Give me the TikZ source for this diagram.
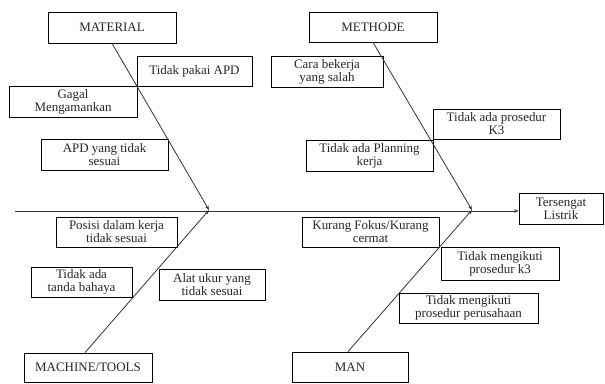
\documentclass[tikz,border=0pt]{standalone}
\usepackage{fontspec}
\setmainfont{Liberation Serif}
\usetikzlibrary{arrows.meta}
\begin{document}
\begin{tikzpicture}[x=1bp,y=-1bp,
  cbox/.style={draw, line width=0.8bp, inner sep=0pt, align=center,
    font=\fontsize{13}{13}\selectfont, text=black!85},
  bone/.style={line width=0.8bp, draw=black!80},
  tip/.style={-{Stealth[length=4.5bp,width=3.5bp]}}]
\useasboundingbox (0,0) rectangle (605,383);
% category boxes
\node[cbox, minimum width=128bp, minimum height=31bp] (material) at (112,27.5) {MATERIAL};
\node[cbox, minimum width=128bp, minimum height=30bp] (methode) at (373,27) {METHODE};
\node[cbox, minimum width=128bp, minimum height=29bp] (machine) at (88,367.5) {MACHINE/TOOLS};
\node[cbox, minimum width=116bp, minimum height=30bp] (man) at (350,367) {MAN};
\node[cbox, minimum width=84bp, minimum height=31bp] (effect) at (561,208.5) {Tersengat\\Listrik};
% cause boxes
\node[cbox, minimum width=115bp, minimum height=30bp] (c1) at (194.5,71) {Tidak pakai APD};
\node[cbox, minimum width=128bp, minimum height=31bp] (c2) at (73,101.5) {Gagal\\Mengamankan};
\node[cbox, minimum width=127bp, minimum height=31bp] (c3) at (104.5,154.5) {APD yang tidak\\sesuai};
\node[cbox, minimum width=112bp, minimum height=31bp] (c4) at (327,71.5) {Cara bekerja\\yang salah};
\node[cbox, minimum width=127bp, minimum height=30bp] (c5) at (496.5,124) {Tidak ada prosedur\\K3};
\node[cbox, minimum width=127bp, minimum height=31bp] (c6) at (369.5,155.5) {Tidak ada Planning\\kerja};
\node[cbox, minimum width=121bp, minimum height=30bp] (c7) at (116.5,232) {Posisi dalam kerja\\tidak sesuai};
\node[cbox, minimum width=101bp, minimum height=30bp] (c8) at (81.5,282) {Tidak ada\\tanda bahaya};
\node[cbox, minimum width=106bp, minimum height=31bp] (c9) at (212,284.5) {Alat ukur yang\\tidak sesuai};
\node[cbox, minimum width=137bp, minimum height=30bp] (c10) at (370.5,232) {Kurang Fokus/Kurang\\cermat};
\node[cbox, minimum width=118bp, minimum height=33bp] (c11) at (500,263.5) {Tidak mengikuti\\prosedur k3};
\node[cbox, minimum width=139bp, minimum height=30bp] (c12) at (468.5,308) {Tidak mengikuti\\prosedur perusahaan};
% spine
\coordinate (start) at (15,211);
\coordinate (j1) at (209,210);
\coordinate (j2) at (472,210);
\draw[bone, tip] (start) -- (effect.west |- start);
% bones
\draw[bone, tip] (material.south) -- (j1);
\draw[bone, tip] (methode.south) -- (j2);
\draw[bone, tip] (machine.north) ++(-3,0) coordinate (mstart) -- (j1);
\draw[bone, tip] (man.north) ++(-2,0) coordinate (nstart) -- (j2);
\end{tikzpicture}
\end{document}
